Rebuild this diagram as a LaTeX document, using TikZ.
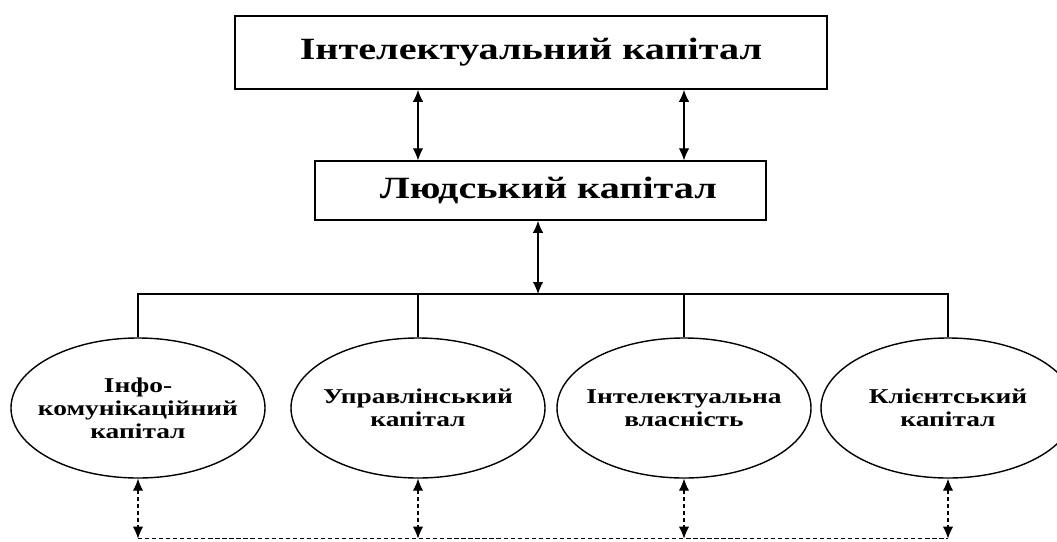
\documentclass[tikz,border=0pt]{standalone}
\usepackage{fontspec}
\usepackage{tikz}
\usetikzlibrary{shapes.geometric, arrows.meta}

\newfontfamily\diagfont[FakeStretch=1.3]{Liberation Serif}

\begin{document}
\begin{tikzpicture}[
            box/.style={draw, line width=1pt, inner sep=0pt, font=\diagfont\bfseries\fontsize{22}{26}\selectfont},
            oval/.style={draw, ellipse, line width=1pt, minimum width=6.35cm, minimum height=3.5cm, inner xsep=-1.3cm, inner ysep=0pt, align=center, font=\diagfont\bfseries\fontsize{15}{16.5}\selectfont},
            both/.style={line width=0.8pt, {Latex[length=3mm,width=2.6mm]}-{Latex[length=3mm,width=2.6mm]}},
        ]
            %\draw[step=1cm,gray,very thin] (0,0) grid (27,14);
            \useasboundingbox (0,0) rectangle (26.425,13.525);

            \node[box, minimum width=14.8cm, minimum height=1.825cm] at (13.275,12.21) (ic) {Інтелектуальний капітал};
            \node[box, minimum width=11.275cm, minimum height=1.475cm] at (13.51,8.76) (hc) {\hspace{0.4cm}Людський капітал};

            \coordinate (l) at (10.45,0);
            \coordinate (r) at (17.1,0);
            \draw[both] (ic.south -| l) -- (hc.north -| l);
            \draw[both] (ic.south -| r) -- (hc.north -| r);

            \node[oval] at (3.45,3.325) (e1) {Інфо-\\комунікаційний\\капітал};
            \node[oval] at (10.45,3.325) (e2) {Управлінський\\капітал};
            \node[oval] at (17.1,3.325) (e3) {Інтелектуальна\\власність};
            \node[oval] at (23.7,3.325) (e4) {Клієнтський\\капітал};

            \coordinate (bus) at (13.45,6.175);
            \draw[both] (hc.south -| bus) -- (bus);
            \draw[line width=0.8pt] (e1.north) |- (e4.north |- bus) -- (e4.north);
            \draw[line width=0.8pt] (e2.north) -- (e2.north |- bus);
            \draw[line width=0.8pt] (e3.north) -- (e3.north |- bus);

            \coordinate (base) at (0,0.06);
            \draw[both, densely dashed] (e1.south) -- (e1.south |- base);
            \draw[both, densely dashed] (e2.south) -- (e2.south |- base);
            \draw[both, densely dashed] (e3.south) -- (e3.south |- base);
            \draw[both, densely dashed] (e4.south) -- (e4.south |- base);
            \draw[line width=1pt, densely dashed] (e1.south |- base) -- (e4.south |- base);
        \end{tikzpicture}
\end{document}
